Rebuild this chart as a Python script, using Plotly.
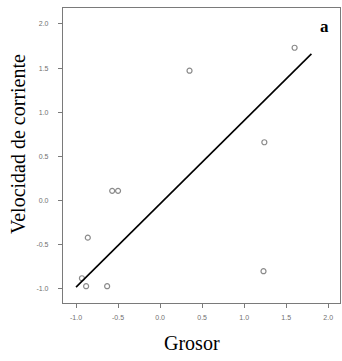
import plotly.graph_objects as go

# Data
grosor = [1.60, 0.35, 1.24, -0.57, -0.50, -0.86, -0.93, -0.88, -0.63, 1.23]
velocidad = [1.73, 1.47, 0.66, 0.11, 0.11, -0.42, -0.88, -0.97, -0.97, -0.80]
line_x = [-1.0, 1.80]
line_y = [-0.98, 1.66]
tick_vals_x = [-1.0, -0.5, 0.0, 0.5, 1.0, 1.5, 2.0]
tick_text_x = ["-1.0", "-0.5", "0.0", "0.5", "1.0", "1.5", "2.0"]
tick_vals_y = [-1.0, -0.5, 0.0, 0.5, 1.0, 1.5, 2.0]
tick_text_y = ["-1.0", "-0.5", "0.0", "0.5", "1.0", "1.5", "2.0"]

W, H = 342, 361
L, R, T, B = 63, 2, 8, 58
pw, ph = W - L - R, H - T - B

def px(x):
    return (x - L) / pw

def py(y):
    return (H - B - y) / ph

fig = go.Figure()
fig.add_trace(go.Scatter(
    x=grosor, y=velocidad, mode="markers",
    marker=dict(symbol="circle-open", size=5, color="#8a8a8a", line=dict(width=1.2)),
    showlegend=False, hoverinfo="skip"))
fig.add_trace(go.Scatter(
    x=line_x, y=line_y, mode="lines",
    line=dict(color="black", width=1.6),
    showlegend=False, hoverinfo="skip"))

axis_common = dict(
    showgrid=False, zeroline=False, showline=True, linecolor="#7a7a7a", linewidth=1.2,
    mirror=True, ticks="outside", ticklen=4, tickcolor="#7a7a7a", tickwidth=1,
    tickfont=dict(family="Arial, Liberation Sans", size=7, color="#707070"),
)
fig.update_xaxes(range=[-1.155, 2.14], tickvals=tick_vals_x, ticktext=tick_text_x,
                 ticklabelstandoff=3, **axis_common)
fig.update_yaxes(range=[-1.16, 2.18], tickvals=tick_vals_y, ticktext=tick_text_y,
                 ticklabelstandoff=8, **axis_common)

serif = "Palatino Linotype, Book Antiqua, Liberation Serif, DejaVu Serif, serif"
common_ann = dict(xref="paper", yref="paper", showarrow=False,
                  xanchor="center", yanchor="middle")
fig.add_annotation(text="Velocidad de corriente", textangle=-90,
                   x=px(18), y=py(144),
                   font=dict(family=serif, size=20, color="black"), **common_ann)
fig.add_annotation(text="Grosor", x=px(192), y=py(343),
                   font=dict(family=serif, size=20, color="black"), **common_ann)
fig.add_annotation(text="<b>a</b>", x=px(324), y=py(26),
                   font=dict(family=serif, size=17, color="black"), **common_ann)

fig.update_layout(width=W, height=H, margin=dict(l=L, r=R, t=T, b=B),
                  paper_bgcolor="white", plot_bgcolor="white")
fig.write_html("out.html")
